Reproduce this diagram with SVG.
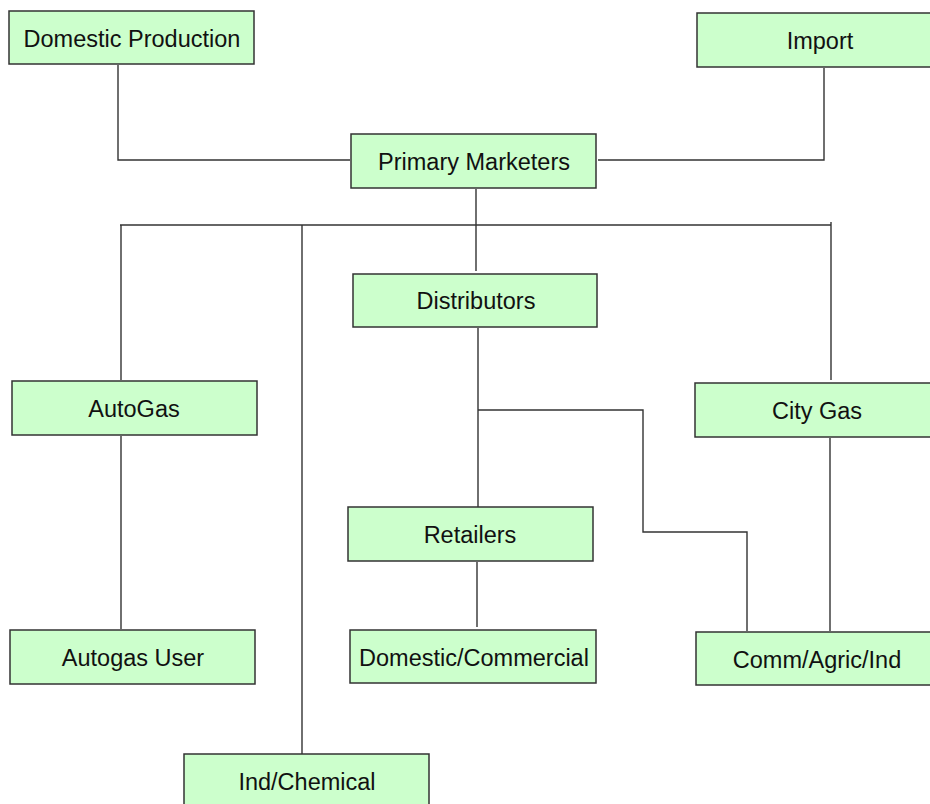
<svg xmlns="http://www.w3.org/2000/svg" width="930" height="804" viewBox="0 0 930 804">
<style>
.box{fill:#ccffcc;stroke:#333;stroke-width:1.5}
.lbl{font-family:"Liberation Sans",Arial,sans-serif;font-size:23.5px;fill:#111;text-anchor:middle}
.wire{fill:none;stroke:#333;stroke-width:1.4}
</style>
<rect width="930" height="804" fill="#fff"/>
<g id="connectors" class="wire">
<polyline points="118,65 118,160 350,160"/>
<polyline points="598,160 824,160 824,68"/>
<line x1="476" y1="189" x2="476" y2="271"/>
<line x1="120" y1="225" x2="831" y2="225"/>
<line x1="121" y1="225" x2="121" y2="380"/>
<line x1="121" y1="436" x2="121" y2="629"/>
<line x1="302" y1="225" x2="302" y2="754"/>
<line x1="831" y1="222" x2="831" y2="380"/>
<line x1="830" y1="438" x2="830" y2="631"/>
<line x1="478" y1="328" x2="478" y2="507"/>
<line x1="477" y1="562" x2="477" y2="627"/>
<polyline points="478,410 643,410 643,532 747,532 747,631"/>
</g>
<g id="domestic-production"><rect class="box" x="9" y="11" width="245" height="53"/><text class="lbl" x="132" y="47">Domestic Production</text></g>
<g id="import"><rect class="box" x="697" y="13" width="245" height="54"/><text class="lbl" x="820" y="49">Import</text></g>
<g id="primary-marketers"><rect class="box" x="351" y="134" width="245" height="54"/><text class="lbl" x="474" y="170">Primary Marketers</text></g>
<g id="distributors"><rect class="box" x="353" y="274" width="244" height="53"/><text class="lbl" x="476" y="309">Distributors</text></g>
<g id="autogas"><rect class="box" x="12" y="381" width="245" height="54"/><text class="lbl" x="134" y="417">AutoGas</text></g>
<g id="city-gas"><rect class="box" x="695" y="383" width="245" height="54"/><text class="lbl" x="817" y="419">City Gas</text></g>
<g id="retailers"><rect class="box" x="348" y="507" width="245" height="54"/><text class="lbl" x="470" y="543">Retailers</text></g>
<g id="autogas-user"><rect class="box" x="10" y="630" width="245" height="54"/><text class="lbl" x="133" y="666">Autogas User</text></g>
<g id="domestic-commercial"><rect class="box" x="350" y="630" width="246" height="53"/><text class="lbl" x="474" y="666">Domestic/Commercial</text></g>
<g id="comm-agric-ind"><rect class="box" x="696" y="632" width="245" height="53"/><text class="lbl" x="817" y="668">Comm/Agric/Ind</text></g>
<g id="ind-chemical"><rect class="box" x="184" y="754" width="245" height="54"/><text class="lbl" x="307" y="790">Ind/Chemical</text></g>
</svg>
